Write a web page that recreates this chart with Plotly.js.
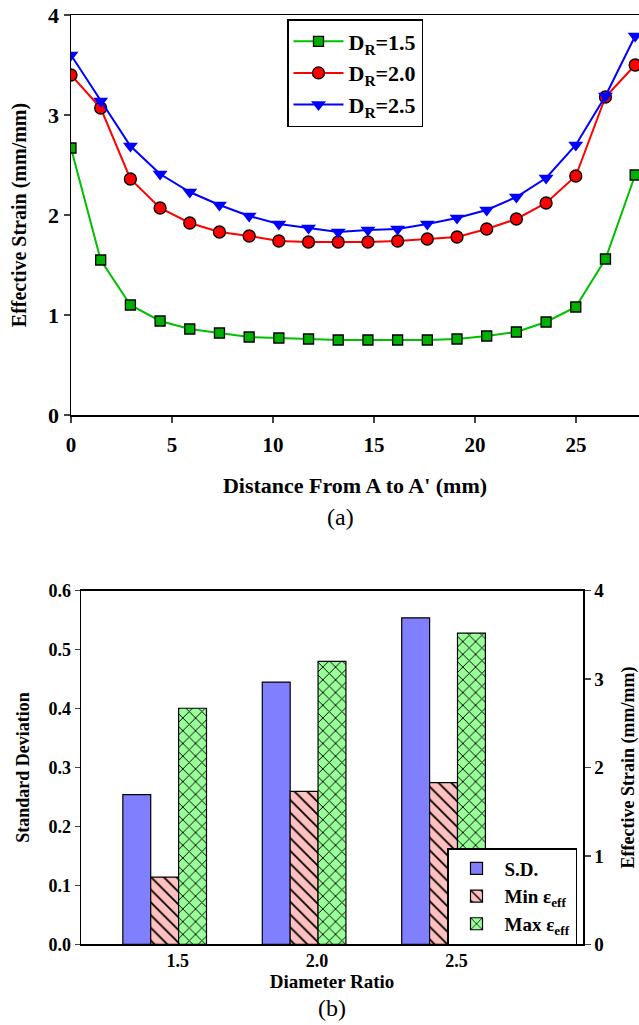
<!DOCTYPE html>
<html>
<head>
<meta charset="utf-8">
<script src="https://cdn.plot.ly/plotly-3.0.1.min.js"></script>
<style>html,body{margin:0;padding:0;background:#fff;}#chart{width:639px;height:1025px;}</style>
</head>
<body>
<div id="chart"></div>
<script>
// ---- Data (a): effective strain along A-A' ----
const distance = [0, 1.47, 2.94, 4.41, 5.88, 7.35, 8.82, 10.29, 11.76, 13.23, 14.7, 16.17, 17.64, 19.11, 20.58, 22.05, 23.52, 24.99, 26.46, 27.93];
const strainDR15 = [2.67, 1.55, 1.10, 0.94, 0.86, 0.82, 0.78, 0.77, 0.76, 0.75, 0.75, 0.75, 0.75, 0.76, 0.79, 0.83, 0.93, 1.08, 1.56, 2.40];
const strainDR20 = [3.40, 3.07, 2.36, 2.07, 1.92, 1.83, 1.79, 1.74, 1.73, 1.73, 1.73, 1.74, 1.76, 1.78, 1.86, 1.96, 2.12, 2.39, 3.18, 3.50];
const strainDR25 = [3.60, 3.14, 2.69, 2.41, 2.23, 2.10, 1.99, 1.91, 1.87, 1.83, 1.85, 1.86, 1.91, 1.97, 2.05, 2.18, 2.37, 2.70, 3.19, 3.79];
const seriesNames = ['D<sub>R</sub>=1.5', 'D<sub>R</sub>=2.0', 'D<sub>R</sub>=2.5'];

// ---- Data (b): bars ----
const diameterRatios = ['1.5', '2.0', '2.5'];
const stdDev = [0.254, 0.445, 0.554];
const minEff = [0.76, 1.73, 1.83];
const maxEff = [2.67, 3.20, 3.52];
const barNames = ['S.D.', 'Min ε<sub>eff</sub>', 'Max ε<sub>eff</sub>'];

const W = 639, H = 1025;
const serif = 'Liberation Serif, Times New Roman, serif';
const bfont = (s) => ({family: serif, size: s, color: '#000', weight: 'bold'});
const px = (v) => v / W;
const py = (v) => 1 - v / H;

const traces = [
  {x: distance, y: strainDR15, name: seriesNames[0], type: 'scatter', mode: 'lines+markers', xaxis: 'x', yaxis: 'y',
   line: {color: '#00c000', width: 2}, marker: {symbol: 'square', size: 10, color: '#00b000', line: {color: '#000', width: 1.3}}, legend: 'legend'},
  {x: distance, y: strainDR20, name: seriesNames[1], type: 'scatter', mode: 'lines+markers', xaxis: 'x', yaxis: 'y',
   line: {color: '#ff0000', width: 2}, marker: {symbol: 'circle', size: 12, color: '#ff0000', line: {color: '#000', width: 1.3}}, legend: 'legend'},
  {x: distance, y: strainDR25, name: seriesNames[2], type: 'scatter', mode: 'lines+markers', xaxis: 'x', yaxis: 'y',
   line: {color: '#0000ff', width: 2}, marker: {symbol: 'triangle-down', size: 13, color: '#0000ff', line: {color: '#0000ff', width: 0}}, legend: 'legend'},
  {x: diameterRatios, y: stdDev, name: barNames[0], type: 'bar', xaxis: 'x2', yaxis: 'y2', offset: -0.3, width: 0.2,
   marker: {color: '#8080ff', line: {color: '#000', width: 1.2}}, legend: 'legend2'},
  {x: diameterRatios, y: minEff, name: barNames[1], type: 'bar', xaxis: 'x2', yaxis: 'y3', offset: -0.1, width: 0.2,
   marker: {color: '#ffc0c0', line: {color: '#000', width: 1.2}, pattern: {shape: '\\', fgcolor: '#000', bgcolor: '#ffc0c0', size: 9, solidity: 0.2}}, legend: 'legend2'},
  {x: diameterRatios, y: maxEff, name: barNames[2], type: 'bar', xaxis: 'x2', yaxis: 'y3', offset: 0.1, width: 0.2,
   marker: {color: '#99ff99', line: {color: '#000', width: 1.2}, pattern: {shape: 'x', fgcolor: '#000', bgcolor: '#99ff99', size: 9, solidity: 0.2}}, legend: 'legend2'}
];

const layout = {
  width: W, height: H,
  margin: {l: 0, r: 0, t: 0, b: 0},
  paper_bgcolor: '#fff', plot_bgcolor: '#fff',
  showlegend: true,
  barmode: 'overlay',
  xaxis: {
    domain: [px(71), 1], anchor: 'y', range: [0, 28.12],
    tickvals: [0, 5, 10, 15, 20, 25], ticks: 'outside', ticklen: 6, tickwidth: 1.5, ticklabelstandoff: 4,
    showline: true, linecolor: '#000', linewidth: 1.5, mirror: true, showgrid: false, zeroline: false,
    tickfont: bfont(21),
    title: {text: "Distance From A to A' (mm)", font: bfont(22), standoff: 22}
  },
  yaxis: {
    domain: [py(415), py(15)], anchor: 'x', range: [0, 4],
    tickvals: [0, 1, 2, 3, 4], ticks: 'outside', ticklen: 6, tickwidth: 1.5,
    showline: true, linecolor: '#000', linewidth: 1.5, mirror: true, showgrid: false, zeroline: false,
    tickfont: bfont(22),
    title: {text: 'Effective Strain (mm/mm)', font: bfont(20), standoff: 16}
  },
  xaxis2: {
    domain: [px(81), px(583)], anchor: 'y2', type: 'category', range: [-0.6, 3.0],
    ticks: '', showline: true, linecolor: '#000', linewidth: 1.5, mirror: true, showgrid: false, zeroline: false,
    tickfont: bfont(18), ticklabelshift: 13,
    title: {text: 'Diameter Ratio', font: bfont(19), standoff: 4}
  },
  yaxis2: {
    domain: [py(944.3), py(590.7)], anchor: 'x2', range: [0, 0.6],
    tickvals: [0, 0.1, 0.2, 0.3, 0.4, 0.5, 0.6], tickformat: '.1f', ticks: 'outside', ticklen: 5, tickwidth: 1.5,
    showline: true, linecolor: '#000', linewidth: 1.5, showgrid: false, zeroline: false,
    tickfont: bfont(18),
    title: {text: 'Standard Deviation', font: bfont(18), standoff: 14}
  },
  yaxis3: {
    overlaying: 'y2', side: 'right', anchor: 'x2', range: [0, 4],
    tickvals: [0, 1, 2, 3, 4], ticks: 'outside', ticklen: 6, tickwidth: 1.5,
    showline: true, linecolor: '#000', linewidth: 1.5, showgrid: false, zeroline: false,
    tickfont: bfont(19),
    title: {text: 'Effective Strain (mm/mm)', font: bfont(18), standoff: 28}
  },
  legend: {
    x: px(287), y: py(19), xanchor: 'left', yanchor: 'top',
    bgcolor: '#fff', bordercolor: '#000', borderwidth: 1.5,
    font: bfont(22), itemwidth: 50, tracegroupgap: 0
  },
  legend2: {
    x: px(447), y: py(848), xanchor: 'left', yanchor: 'top',
    bgcolor: '#fff', bordercolor: '#000', borderwidth: 1.5,
    font: bfont(19), itemwidth: 46, tracegroupgap: 0
  },
  annotations: [
    {text: '(a)', xref: 'paper', yref: 'paper', x: px(340), y: py(517), xanchor: 'center', yanchor: 'middle',
     showarrow: false, font: {family: serif, size: 24, color: '#000'}},
    {text: '(b)', xref: 'paper', yref: 'paper', x: px(332), y: py(1008), xanchor: 'center', yanchor: 'middle',
     showarrow: false, font: {family: serif, size: 24, color: '#000'}}
  ]
};

Plotly.newPlot('chart', traces, layout, {staticPlot: true, displayModeBar: false});
</script>
</body>
</html>
